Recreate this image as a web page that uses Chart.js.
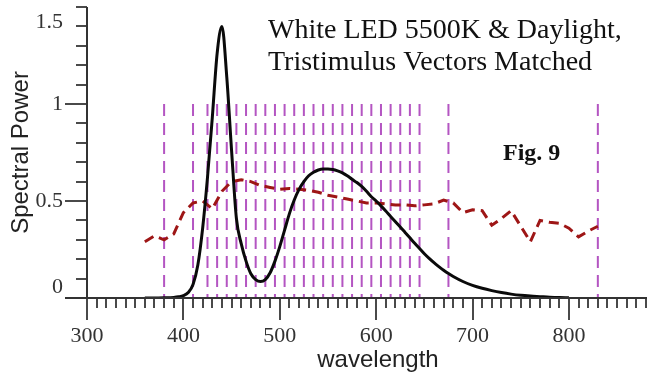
<!DOCTYPE html>
<html>
<head>
<meta charset="utf-8">
<script src="https://cdn.jsdelivr.net/npm/chart.js@4.4.1/dist/chart.umd.min.js"></script>
<style>
  html, body { margin: 0; padding: 0; background: #fff; }
</style>
</head>
<body>
<canvas id="spectrum" width="647" height="379"></canvas>
<script>
// --- DATA ---
const ledWavelengths = [360, 370, 380, 390, 395, 400, 405, 410, 415, 420, 425, 430, 435, 440, 445,
  450, 455, 460, 465, 470, 475, 480, 485, 490, 495, 500, 505, 510, 515, 520, 525, 530, 535, 540,
  545, 550, 555, 560, 565, 570, 575, 580, 585, 590, 595, 600, 605, 610, 615, 620, 625, 630, 635,
  640, 645, 650, 655, 660, 665, 670, 675, 680, 690, 700, 710, 720, 730, 740, 750, 760, 770, 780,
  790, 800];
const ledPower = [0, 0, 0.001, 0.003, 0.006, 0.012, 0.028, 0.07, 0.17, 0.36, 0.62, 0.93, 1.26, 1.40, 1.14,
  0.76, 0.41, 0.28, 0.19, 0.125, 0.095, 0.085, 0.095, 0.13, 0.19, 0.265, 0.35, 0.435, 0.505, 0.56, 0.60, 0.63, 0.648, 0.66,
  0.665, 0.665, 0.662, 0.655, 0.645, 0.63, 0.612, 0.595, 0.575, 0.55, 0.522, 0.50, 0.475, 0.448, 0.42, 0.393, 0.366, 0.338, 0.31,
  0.282, 0.255, 0.228, 0.204, 0.182, 0.162, 0.143, 0.126, 0.111, 0.085, 0.065, 0.05, 0.038, 0.028, 0.02, 0.014, 0.01, 0.007, 0.004,
  0.002, 0.001];

const daylightWavelengths = [360, 370, 380, 390, 400, 410, 420, 430, 440, 450, 460, 470, 480, 490, 500,
  510, 520, 530, 540, 550, 560, 570, 580, 590, 600, 610, 620, 630, 640, 650, 660, 670, 680, 690,
  700, 710, 720, 730, 740, 750, 760, 770, 780, 790, 800, 810, 820, 830];
const daylightPower = [0.29, 0.32, 0.30, 0.33, 0.44, 0.49, 0.50, 0.46, 0.55, 0.60, 0.61, 0.60, 0.58, 0.57, 0.56,
  0.565, 0.56, 0.555, 0.545, 0.53, 0.52, 0.51, 0.50, 0.49, 0.49, 0.485, 0.48, 0.48, 0.475, 0.48, 0.485, 0.505, 0.49, 0.44,
  0.455, 0.45, 0.375, 0.41, 0.45, 0.37, 0.29, 0.40, 0.39, 0.385, 0.36, 0.315, 0.345, 0.37];

// sample wavelengths (vertical dashed markers)
const markerWavelengths = [380, 410, 425, 435, 445, 455, 465, 475, 485, 495, 505, 515, 525, 535, 545,
  555, 565, 575, 585, 595, 605, 615, 625, 635, 645, 675, 830];
const markerHeight = 1.0;

const xTickValues = [300, 400, 500, 600, 700, 800];
const yTickValues = [0, 0.5, 1, 1.5];
const yTickLabels = ['0', '0.5', '1', '1.5'];

const titleLines = ['White LED 5500K & Daylight,', 'Tristimulus Vectors Matched'];
const figLabel = 'Fig. 9';
const xTitle = 'wavelength';
const yTitle = 'Spectral Power';

// --- axes, ticks and text drawn on top ---
const axisPainter = {
    id: 'axisPainter',
    afterDraw(chart) {
        const { ctx, scales: { x, y } } = chart;
        const x0 = x.getPixelForValue(x.min);
        const y0 = y.getPixelForValue(0);
        ctx.save();

        // ticks
        ctx.strokeStyle = '#4a4a4a';
        ctx.lineWidth = 2;
        ctx.beginPath();
        for (let v = 300; v <= 880; v += 10) {
            const px = Math.round(x.getPixelForValue(v));
            const major = v % 100 === 0 && v <= 800;
            ctx.moveTo(px, y0);
            ctx.lineTo(px, y0 + (major ? 22 : 10));
        }
        for (let i = 0; i <= 15; i++) {
            const v = i / 10;
            const py = Math.round(y.getPixelForValue(v));
            const major = i === 5 || i === 10;
            ctx.moveTo(x0, py);
            ctx.lineTo(x0 - (major ? 22 : 11), py);
        }
        ctx.stroke();

        // axis lines
        ctx.strokeStyle = '#333';
        ctx.beginPath();
        ctx.moveTo(x0 - 22, y0);
        ctx.lineTo(x.right, y0);
        ctx.moveTo(x0, y0);
        ctx.lineTo(x0, y.getPixelForValue(y.max));
        ctx.stroke();

        // y tick labels (kept inside the axis span)
        ctx.fillStyle = '#333';
        ctx.font = '22px "Liberation Serif"';
        ctx.textAlign = 'right';
        ctx.textBaseline = 'middle';
        yTickValues.forEach((v, i) => {
            const py = Math.min(Math.max(y.getPixelForValue(v), y.top + 15), y.bottom - 11);
            ctx.fillText(yTickLabels[i], x0 - 24, py);
        });

        // axis titles
        ctx.fillStyle = '#222';
        ctx.font = '24px "Liberation Sans"';
        ctx.textAlign = 'center';
        ctx.textBaseline = 'alphabetic';
        ctx.fillText(xTitle, 378, 367);
        ctx.save();
        ctx.translate(28, (y.top + y.bottom) / 2);
        ctx.rotate(-Math.PI / 2);
        ctx.fillText(yTitle, 0, 0);
        ctx.restore();

        // title
        ctx.fillStyle = '#111';
        ctx.font = '28px "Liberation Serif"';
        ctx.textAlign = 'left';
        ctx.fillText(titleLines[0], 268, 38);
        ctx.fillText(titleLines[1], 268, 70);

        ctx.font = 'bold 24px "Liberation Serif"';
        ctx.fillText(figLabel, 503, 160);

        ctx.restore();
    }
};

const toPoints = (xs, ys) => xs.map((v, i) => ({ x: v, y: ys[i] }));

const datasets = [
    {
        label: 'White LED 5500K',
        data: toPoints(ledWavelengths, ledPower),
        borderColor: '#0a0a0a',
        borderWidth: 3,
        pointRadius: 0,
        cubicInterpolationMode: 'monotone',
        order: 0
    },
    {
        label: 'Daylight',
        data: toPoints(daylightWavelengths, daylightPower),
        borderColor: '#9e1616',
        borderWidth: 3,
        borderDash: [10, 6],
        pointRadius: 0,
        tension: 0,
        order: 1
    }
].concat(markerWavelengths.map(w => ({
    label: 'sample ' + w,
    data: [{ x: w, y: markerHeight }, { x: w, y: 0 }],
    borderColor: '#b455c2',
    borderWidth: 2,
    borderDash: [12, 7],
    pointRadius: 0,
    order: 2
})));

new Chart(document.getElementById('spectrum'), {
    type: 'line',
    data: { datasets: datasets },
    options: {
        responsive: false,
        animation: false,
        events: [],
        layout: { padding: { left: 87, top: 7, right: 0, bottom: 0 } },
        scales: {
            x: {
                type: 'linear',
                min: 300,
                max: 881,
                grid: { display: false, drawTicks: false },
                border: { display: false },
                afterBuildTicks: s => { s.ticks = xTickValues.map(v => ({ value: v })); },
                afterFit: s => { s.height = 81; },
                ticks: {
                    color: '#333',
                    font: { family: 'Liberation Serif', size: 22 },
                    padding: 25,
                    maxRotation: 0,
                    autoSkip: false,
                    callback: v => String(v)
                }
            },
            y: {
                type: 'linear',
                min: 0,
                max: 1.5,
                display: false
            }
        },
        plugins: {
            legend: { display: false },
            tooltip: { enabled: false }
        }
    },
    plugins: [axisPainter]
});
</script>
</body>
</html>
